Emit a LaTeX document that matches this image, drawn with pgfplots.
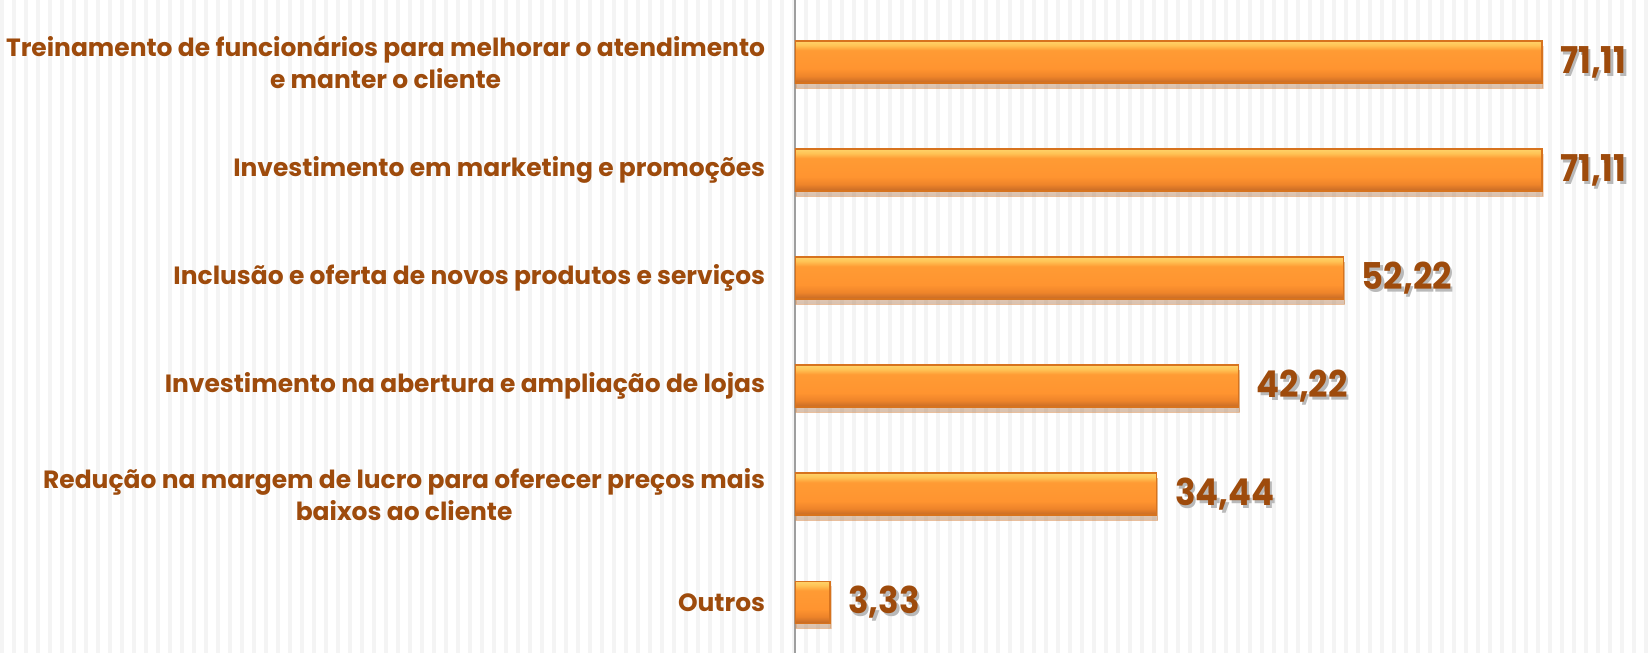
\documentclass[border=0pt]{standalone}
\usepackage{pgfplots}
\pgfplotsset{compat=1.18}
\usepackage{fontspec}
\setmainfont{Poppins}
\newfontfamily\numfont[FakeStretch=0.92]{Poppins}
\usetikzlibrary{backgrounds,shadows}

\definecolor{txtbrown}{RGB}{158,75,12}
\definecolor{baredge}{RGB}{215,115,30}

% light band on top, plain orange body, darker band at the bottom
\pgfdeclareverticalshading{barshade}{100bp}{
  color(0bp)=(rgb,255:red,195;green,105;blue,38);
  color(25bp)=(rgb,255:red,195;green,105;blue,38);
  color(33bp)=(rgb,255:red,238;green,132;blue,42);
  color(42bp)=(rgb,255:red,255;green,148;blue,48);
  color(64bp)=(rgb,255:red,255;green,155;blue,52);
  color(70bp)=(rgb,255:red,255;green,195;blue,85);
  color(75bp)=(rgb,255:red,255;green,210;blue,105);
  color(100bp)=(rgb,255:red,255;green,210;blue,105)}

\pgfplotsset{
  orangebar/.style={draw=baredge, line width=0.4pt, shading=barshade,
    drop shadow={opacity=0.25, shadow xshift=0.3pt, shadow yshift=-1.5pt},
    every node near coord/.style={font=\numfont\bfseries\fontsize{10.5}{12}\selectfont, text=txtbrown, xshift=0.06cm}},
  valshadow/.style={draw=none, fill=none,
    every node near coord/.style={font=\numfont\bfseries\fontsize{10.5}{12}\selectfont, text=gray!55, xshift=0.085cm, yshift=-0.03cm}},
}

\begin{document}
\begin{tikzpicture}
\begin{axis}[
    at={(7.95cm,0)}, anchor=south west,
    scale only axis,
    width=8.56cm, height=6.53cm,
    xbar, bar width=0.42cm, bar shift=0pt,
    xmin=0, xmax=81.5,
    ymin=-0.574, ymax=5.47,
    y dir=reverse,
    axis y line=left, axis x line=none,
    y axis line style={-, draw=gray!75, line width=0.7pt},
    xtick=\empty,
    ytick={0,1,2,3,4,5},
    yticklabels={
        {Treinamento de funcionários para melhorar o atendimento\\e manter o cliente},
        {Investimento em marketing e promoções},
        {Inclusão e oferta de novos produtos e serviços},
        {Investimento na abertura e ampliação de lojas},
        {Redução na margem de lucro para oferecer preços mais\\baixos ao cliente},
        {Outros}},
    ytick style={draw=none},
    yticklabel style={font=\bfseries\fontsize{7.1}{9.1}\selectfont, text=txtbrown, align=center, xshift=-0.1cm},
    point meta=x,
    nodes near coords,
    /pgf/number format/.cd, use comma, fixed, fixed zerofill, precision=2, assume math mode=true,
]
% text shadow of the values
\addplot[valshadow] coordinates {(71.11,0) (71.11,1) (52.22,2) (42.22,3) (34.44,4) (3.33,5)};
% one plot per bar so that each bar gets its own shading
\addplot[orangebar] coordinates {(71.11,0)};
\addplot[orangebar] coordinates {(71.11,1)};
\addplot[orangebar] coordinates {(52.22,2)};
\addplot[orangebar] coordinates {(42.22,3)};
\addplot[orangebar] coordinates {(34.44,4)};
\addplot[orangebar] coordinates {(3.33,5)};
\end{axis}
\begin{scope}[on background layer]
  \fill[white] (0,0) rectangle (16.51cm,6.53cm);
  \foreach \i in {0,...,137} {
    \fill[gray!9] (\i*0.12cm,0) rectangle ++(0.04cm,6.53cm);
  }
\end{scope}
\pgfresetboundingbox
\path (0,0) rectangle (16.51cm,6.53cm);
\end{tikzpicture}
\end{document}
